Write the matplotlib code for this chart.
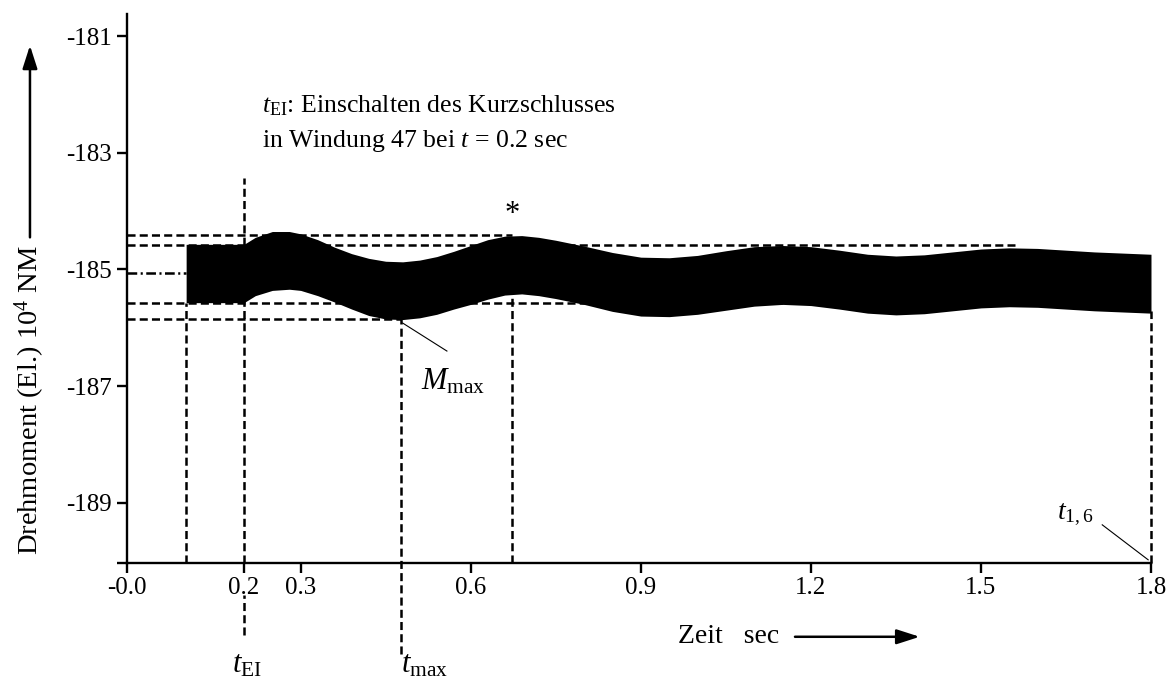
import matplotlib
matplotlib.use("Agg")
import matplotlib.pyplot as plt

plt.rcParams["font.family"] = ["Liberation Serif", "DejaVu Serif"]
plt.rcParams["mathtext.fontset"] = "custom"
plt.rcParams["mathtext.rm"] = "Liberation Serif"
plt.rcParams["mathtext.it"] = "Liberation Serif:italic"
plt.rcParams["lines.scale_dashes"] = False

# Torque envelope (upper / lower edge of the dense oscillation), 10^4 NM
t_env = [0.098, 0.20, 0.22, 0.25, 0.28, 0.30, 0.33, 0.36, 0.39, 0.42, 0.45, 0.48,
         0.51, 0.54, 0.57, 0.60, 0.63, 0.66, 0.69, 0.72, 0.75, 0.80, 0.85, 0.90,
         0.95, 1.00, 1.05, 1.10, 1.15, 1.20, 1.25, 1.30, 1.35, 1.40, 1.45, 1.50,
         1.55, 1.60, 1.65, 1.70, 1.75, 1.80]
upper = [-184.57, -184.57, -184.45, -184.35, -184.35, -184.39, -184.49, -184.62,
         -184.73, -184.81, -184.86, -184.87, -184.84, -184.78, -184.69, -184.59,
         -184.49, -184.43, -184.42, -184.45, -184.50, -184.60, -184.71, -184.79,
         -184.80, -184.76, -184.68, -184.61, -184.59, -184.61, -184.67, -184.74,
         -184.77, -184.75, -184.70, -184.65, -184.63, -184.64, -184.67, -184.70,
         -184.72, -184.74]
lower = [-185.57, -185.57, -185.45, -185.36, -185.34, -185.36, -185.45, -185.56,
         -185.68, -185.79, -185.85, -185.86, -185.83, -185.77, -185.68, -185.60,
         -185.51, -185.44, -185.42, -185.45, -185.50, -185.60, -185.72, -185.80,
         -185.81, -185.77, -185.70, -185.63, -185.60, -185.62, -185.68, -185.75,
         -185.78, -185.76, -185.71, -185.66, -185.64, -185.65, -185.68, -185.71,
         -185.73, -185.75]

x_ticks = [-0.0069, 0.2, 0.3, 0.6, 0.9, 1.2, 1.5, 1.8]
x_ticklabels = ["-0.0", "0.2", "0.3", "0.6", "0.9", "1.2", "1.5", "1.8"]
y_ticks = [-190.03, -189, -187, -185, -183, -181]
y_ticklabels = ["", "-189", "-187", "-185", "-183", "-181"]

# Characteristic instants and torque levels
t_start = 0.098
t_ei = 0.2
t_max = 0.477
t_peak = 0.673
t_end = 1.8
m_peak_hi = -184.41
m_hi2 = -184.58
m_mid = -185.06
m_lo = -185.57
m_max = -185.85

XMIN, XMAX = -0.0069, 1.8
YMIN, YMAX = -190.03, -180.62

fig = plt.figure(figsize=(11.74, 6.87), dpi=100)
ax = fig.add_axes([0.1079, 0.1809, 0.8725, 0.7987])
ax.set_xlim(XMIN, XMAX)
ax.set_ylim(YMIN, YMAX)

for side in ("top", "right"):
    ax.spines[side].set_visible(False)
for side in ("left", "bottom"):
    ax.spines[side].set_linewidth(1.7)

ax.set_xticks(x_ticks)
ax.set_xticklabels(x_ticklabels)
ax.set_yticks(y_ticks)
ax.set_yticklabels(y_ticklabels)
ax.tick_params(axis="both", direction="out", length=7, width=1.7,
               labelsize=18, pad=3.5)

dash = dict(color="black", lw=1.8, dashes=(5.8, 3.0), zorder=1)

# horizontal reference lines
ax.plot([XMIN, t_peak], [m_peak_hi, m_peak_hi], **dash)
ax.plot([XMIN, 1.56], [m_hi2, m_hi2], **dash)
ax.plot([XMIN, 1.18], [m_lo, m_lo], **dash)
ax.plot([XMIN, t_max], [m_max, m_max], **dash)
ax.plot([XMIN, t_start], [m_mid, m_mid], color="black", lw=1.8,
        dashes=(7.0, 2.5, 1.5, 2.5), zorder=1)

# vertical reference lines
ax.plot([t_start, t_start], [YMIN, m_lo], **dash)
ax.plot([t_ei, t_ei], [YMIN, -183.44], **dash)
ax.plot([t_ei, t_ei], [-191.27, -190.58], clip_on=False, **dash)
ax.plot([t_max, t_max], [-191.6, m_max], clip_on=False, **dash)
ax.plot([t_peak, t_peak], [YMIN, m_peak_hi], **dash)
ax.plot([t_end, t_end], [YMIN, -185.72], clip_on=False, **dash)

# torque band
ax.fill_between(t_env, lower, upper, color="black", lw=0, zorder=2)

# annotations
ax.text(0.232, -182.30, r"$t_{\mathrm{EI}}$: Einschalten des Kurzschlusses",
        fontsize=18.5, ha="left", va="baseline")
ax.text(0.232, -182.90, r"in Windung 47 bei $t$ = 0.2 sec",
        fontsize=18.5, ha="left", va="baseline")
ax.text(t_peak, -184.05, "*", fontsize=22, ha="center", va="center")

ax.text(0.205, -191.78, r"$t_{\mathrm{EI}}$", fontsize=22, ha="center",
        va="center", clip_on=False)
ax.text(0.519, -191.78, r"$t_{\mathrm{max}}$", fontsize=22, ha="center",
        va="center", clip_on=False)

ax.plot([0.480, 0.558], [-185.92, -186.40], color="black", lw=0.8, zorder=3)
ax.text(0.569, -186.93, r"$M_{\mathrm{max}}$", fontsize=22, ha="center",
        va="center")

ax.plot([1.714, 1.795], [-189.38, -189.98], color="black", lw=0.8, zorder=3)
ax.text(1.666, -189.21, r"$t_{1,6}$", fontsize=20, ha="center", va="center")

# axis captions with arrows
ax.text(1.054, -191.30, "Zeit   sec", fontsize=20, ha="center", va="center",
        clip_on=False)
arrow_style = dict(arrowstyle="-|>,head_length=1.4,head_width=0.45",
                   color="black", lw=1.8, shrinkA=0, shrinkB=0)
ax.annotate("", xy=(1.392, -191.30), xytext=(1.172, -191.30),
            xycoords="data", annotation_clip=False, arrowprops=arrow_style)

ax.text(-0.1775, -187.24, r"Drehmoment (El.) 10$^4$ NM", fontsize=20.5,
        rotation=90, ha="center", va="center", clip_on=False)
ax.annotate("", xy=(-0.1775, -181.16), xytext=(-0.1775, -184.45),
            xycoords="data", annotation_clip=False, arrowprops=arrow_style)

fig.savefig("out.png", dpi=100)
